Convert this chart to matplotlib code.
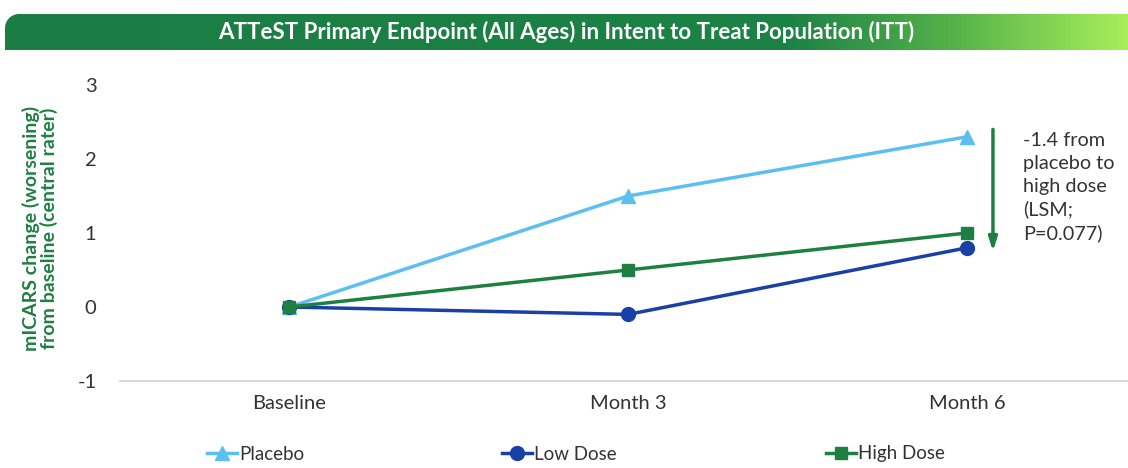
import numpy as np
import matplotlib
matplotlib.use("Agg")
import matplotlib.pyplot as plt
from matplotlib.path import Path
from matplotlib.patches import PathPatch
from matplotlib.colors import LinearSegmentedColormap
from matplotlib.lines import Line2D

categories = ["Baseline", "Month 3", "Month 6"]
placebo = [0.0, 1.5, 2.3]
low_dose = [0.0, -0.1, 0.8]
high_dose = [0.0, 0.5, 1.0]
series_names = ["Placebo", "Low Dose", "High Dose"]
title = "ATTeST Primary Endpoint (All Ages) in Intent to Treat Population (ITT)"
ylabel = "mICARS change (worsening)\nfrom baseline (central rater)"
annotation = "-1.4 from\nplacebo to\nhigh dose\n(LSM;\nP=0.077)"
yticks = [-1, 0, 1, 2, 3]

plt.rcParams['font.family'] = ['Lato', 'DejaVu Sans']

W, H = 1128, 468
fig = plt.figure(figsize=(W / 100, H / 100), dpi=100)

# Title banner with gradient (pixel units inside the banner axes)
bx0, btop, bbot = 5, 14, 50
bw, bh = W - bx0, bbot - btop
bax = fig.add_axes([bx0 / W, 1 - bbot / H, bw / W, bh / H])
bax.set_xlim(0, bw)
bax.set_ylim(0, bh)
bax.axis('off')
cmap = LinearSegmentedColormap.from_list(
    "g", [(0, "#1b7d44"), (0.70, "#1c8245"), (0.84, "#52b04a"), (1.0, "#a8ee5a")])
grad = np.linspace(0, 1, 512).reshape(1, -1)
im = bax.imshow(grad, aspect='auto', cmap=cmap, extent=[0, bw, 0, bh])
r = 14
k = 0.5523 * r
verts = [(0, 0), (bw, 0), (bw, bh), (r, bh),
         (r - k, bh), (0, bh - r + k), (0, bh - r), (0, 0)]
codes = [Path.MOVETO, Path.LINETO, Path.LINETO, Path.LINETO,
         Path.CURVE4, Path.CURVE4, Path.CURVE4, Path.CLOSEPOLY]
clip = PathPatch(Path(verts, codes), transform=bax.transData,
                 facecolor='none', edgecolor='none')
bax.add_patch(clip)
im.set_clip_path(clip)
bax.text(0.5, 0.5, title, ha='center', va='center', color='white',
         fontsize=16, fontweight='bold', transform=bax.transAxes)

# Main axes
ax = fig.add_axes([120 / W, 1 - 381 / H, 1 - 120 / W, (381 - 85) / H])
x = np.arange(len(categories))
c_pl, c_lo, c_hi = "#5bbff0", "#1a40a8", "#1e8040"
ax.plot(x, placebo, color=c_pl, lw=2.5, marker='^', ms=10, zorder=3)
ax.plot(x, low_dose, color=c_lo, lw=2.5, marker='o', ms=10, zorder=3)
ax.plot(x, high_dose, color=c_hi, lw=2.5, marker='s', ms=9, zorder=4)

ax.set_xlim(-0.5, (W - 290) / 338.5)
ax.set_ylim(-1, 3)
ax.set_xticks(x)
ax.set_xticklabels(categories, fontsize=14.5, color="#333333")
ax.set_yticks(yticks)
ax.set_yticklabels([str(t) for t in yticks], fontsize=14.5, color="#333333")
for s in ['top', 'right', 'left']:
    ax.spines[s].set_visible(False)
ax.spines['bottom'].set_color("#d0d0d0")
ax.spines['bottom'].set_linewidth(1.2)
ax.tick_params(axis='both', length=0)
ax.tick_params(axis='x', pad=10)
ax.tick_params(axis='y', pad=17)
fig.text(40 / W, 1 - 228 / H, ylabel, rotation=90, ha='center', va='center',
         color="#1e8040", fontsize=14, fontweight='bold', linespacing=1.05)

# Arrow and annotation
ax.annotate("", xy=(2.077, 0.75), xytext=(2.077, 2.4),
            arrowprops=dict(arrowstyle='-|>,head_width=0.25,head_length=0.8',
                            color=c_hi, lw=2.5, shrinkA=0, shrinkB=0))
ax.text(2.165, 2.36, annotation, ha='left', va='top', fontsize=14.3,
        color="#333333", linespacing=1.4)

handles = [Line2D([], [], color=c_pl, lw=2.5, marker='^', ms=10),
           Line2D([], [], color=c_lo, lw=2.5, marker='o', ms=10),
           Line2D([], [], color=c_hi, lw=2.5, marker='s', ms=9)]
for h, name, xpix in zip(handles, series_names, [207, 502, 826]):
    leg = fig.legend([h], [name], loc='center left',
                     bbox_to_anchor=(xpix / W, 1 - 454 / H), frameon=False,
                     fontsize=13.5, handlelength=1.6, handletextpad=0.1,
                     borderpad=0, borderaxespad=0, labelcolor="#333333")

fig.savefig("out.png", dpi=100)
